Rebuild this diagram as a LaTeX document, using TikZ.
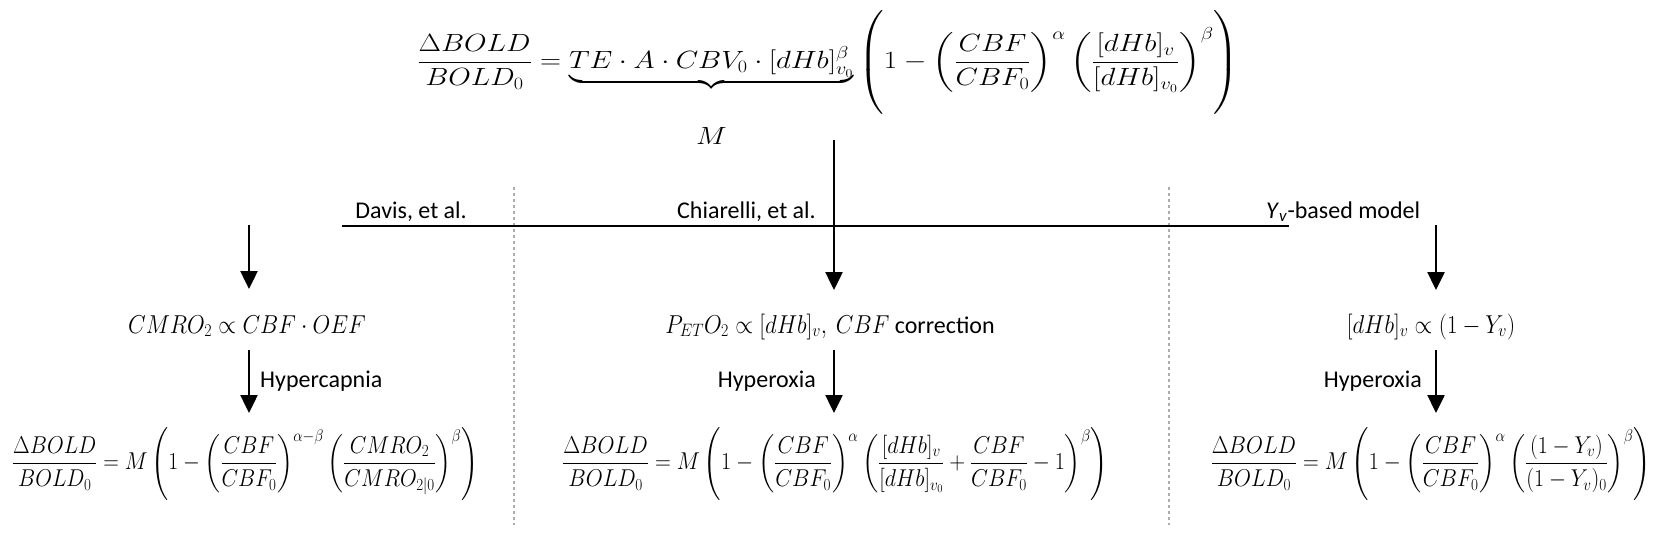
\documentclass[tikz,border=0pt]{standalone}
\usepackage[no-math]{fontspec}
\setmainfont{Carlito}
\usepackage{amsmath}
\usepackage{graphicx}
\usetikzlibrary{arrows.meta}
\newcommand{\nm}[1]{\scalebox{0.92}[1.04]{$#1$}}
\begin{document}
\begin{tikzpicture}[x=1pt,y=-1pt,
  conn/.style={line width=2.5pt,-{Triangle[width=17pt,length=18pt]}},
  barline/.style={line width=2.6pt},
  sepline/.style={line width=2.6pt,color=black!32,dash pattern=on 3pt off 3pt},
  lbl/.style={font=\fontsize{24}{29}\selectfont,inner sep=0pt},
  eqn/.style={font=\fontsize{24}{29}\selectfont,inner sep=0pt}]
\useasboundingbox (0,0) rectangle (1665,538);

% separators
\coordinate (s1t) at (514,187); \coordinate (s1b) at (514,525);
\coordinate (s2t) at (1169,187); \coordinate (s2b) at (1169,525);
\draw[sepline] (s1t) -- (s1b);
\draw[sepline] (s2t) -- (s2b);

% top equation
\node[eqn,anchor=north west] (top) at (417,10) {\resizebox*{822pt}{137pt}{$\displaystyle \frac{\Delta BOLD}{BOLD_0}=\underbrace{TE\cdot A\cdot CBV_0\cdot [dHb]_{v_0}^{\beta}}_{\displaystyle\rule{0pt}{54pt}M}\left(\rule[-42pt]{0pt}{96pt}1-\left(\frac{CBF}{CBF_0}\right)^{\alpha}\left(\frac{[dHb]_v}{[dHb]_{v_0}}\right)^{\beta}\right)$}};

% branch bar and labels
\coordinate (barL) at (342,226); \coordinate (barR) at (1289,226);
\draw[barline] (barL) -- (barR);
\node[lbl,anchor=base east] (davis) at (467,218) {Davis, et al.};
\node[lbl,anchor=base east] (chiar) at (816,218) {Chiarelli, et al.};
\node[lbl,anchor=base west] (yvm) at (1266,218) {\textit{Y}\textsubscript{\textit{v}}-based model};

% middle statements
\node[eqn,anchor=base] (m1) at (247,333) {\nm{CMRO_2 \propto CBF\cdot OEF}};
\node[eqn,anchor=base] (m2) at (830,333) {\nm{P_{ET}O_2 \propto [dHb]_v,\ CBF} correction};
\node[eqn,anchor=base] (m3) at (1431,333) {\nm{[dHb]_v \propto (1-Y_v)}};

% challenge labels
\node[lbl,anchor=base west] (hc) at (260,387) {Hypercapnia};
\node[lbl,anchor=base east] (ho1) at (816,387) {Hyperoxia};
\node[lbl,anchor=base east] (ho2) at (1422,387) {Hyperoxia};

% bottom equations
\node[eqn,anchor=north west] (b1) at (12,427) {\resizebox*{466pt}{73pt}{$\displaystyle \frac{\Delta BOLD}{BOLD_0}=M\left(1-\left(\frac{CBF}{CBF_0}\right)^{\alpha-\beta}\left(\frac{CMRO_2}{CMRO_{2|0}}\right)^{\beta}\right)$}};
\node[eqn,anchor=north west] (b2) at (562,427) {\resizebox*{546pt}{73pt}{$\displaystyle \frac{\Delta BOLD}{BOLD_0}=M\left(1-\left(\frac{CBF}{CBF_0}\right)^{\alpha}\left(\frac{[dHb]_v}{[dHb]_{v_0}}+\frac{CBF}{CBF_0}-1\right)^{\beta}\right)$}};
\node[eqn,anchor=north east] (b3) at (1651,427) {\resizebox*{440pt}{73pt}{$\displaystyle \frac{\Delta BOLD}{BOLD_0}=M\left(1-\left(\frac{CBF}{CBF_0}\right)^{\alpha}\left(\frac{(1-Y_v)}{(1-Y_v)_0}\right)^{\beta}\right)$}};

% arrows
\coordinate (a1s) at (249,225); \coordinate (a1e) at (249,289);
\coordinate (a2s) at (834,140); \coordinate (a2e) at (834,290);
\coordinate (a3s) at (1436,225); \coordinate (a3e) at (1436,290);
\coordinate (b1s) at (249,350); \coordinate (b1e) at (249,413);
\coordinate (b2s) at (834,350); \coordinate (b2e) at (834,413);
\coordinate (b3s) at (1436,350); \coordinate (b3e) at (1436,413);
\draw[conn] (a1s) -- (a1e);
\draw[conn] (a2s) -- (a2e);
\draw[conn] (a3s) -- (a3e);
\draw[conn] (b1s) -- (b1e);
\draw[conn] (b2s) -- (b2e);
\draw[conn] (b3s) -- (b3e);
\end{tikzpicture}
\end{document}
